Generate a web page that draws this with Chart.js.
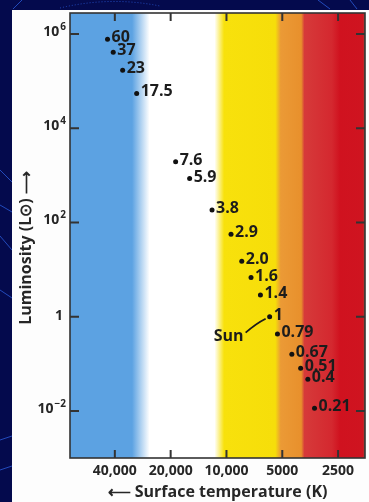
<!DOCTYPE html>
<html>
<head>
<meta charset="utf-8">
<script src="https://cdn.jsdelivr.net/npm/chart.js@4.4.0/dist/chart.umd.min.js"></script>
<style>
  html, body { margin: 0; padding: 0; width: 369px; height: 502px; overflow: hidden; background: #040a4d; }
  #bg { position: absolute; left: 0; top: 0; }
  #panel { position: absolute; left: 12px; top: 10px; width: 357px; height: 492px; background: #fdfdfd; }
  #hr { position: absolute; left: 0; top: 0; }
</style>
</head>
<body>
<svg id="bg" width="369" height="502">
  <g fill="none" stroke="#2a5ad8" stroke-width="1" opacity="0.8">
    <path d="M13 9 L22 0"/>
    <path d="M60 8 Q110 -4 160 6" stroke-dasharray="1 2"/>
    <path d="M318 0 L330 9"/>
    <path d="M350 0 L357 9"/>
    <path d="M0 170 L12 182"/>
    <path d="M0 205 L12 212"/>
    <path d="M0 236 L12 250"/>
    <path d="M0 290 L12 298"/>
    <path d="M0 440 L12 436"/>
    <path d="M0 470 L12 466"/>
  </g>
</svg>
<div id="panel"></div>
<canvas id="hr" width="369" height="502"></canvas>
<script>
// main sequence stars: mass (solar masses), surface temperature (K), luminosity (L sun)
const masses = ['60', '37', '23', '17.5', '7.6', '5.9', '3.8', '2.9', '2.0', '1.6', '1.4', '1', '0.79', '0.67', '0.51', '0.4', '0.21'];
const temperatures = [43800, 40800, 36300, 30500, 18800, 15800, 11960, 9450, 8270, 7370, 6560, 5850, 5310, 4440, 3980, 3640, 3350];
const luminosities = [7.8e5, 4.1e5, 1.7e5, 5.5e4, 1950, 860, 183, 56, 15, 6.8, 2.9, 1, 0.43, 0.16, 0.08, 0.047, 0.0114];

const tempTicks = [40000, 20000, 10000, 5000, 2500];
const tempTickLabels = ['40,000', '20,000', '10,000', '5000', '2500'];
const lumTicks = [1e6, 1e4, 1e2, 1, 1e-2];
const lumTickExponents = ['6', '4', '2', '', '\u22122'];

// colour bands behind the stars, by temperature
const bandTemps = [69800, 32300, 26000, 11600, 10300, 5450, 5100, 3950, 3800, 2700, 2450, 1830, 1810, 1790];
const bandColors = ['#5ca2e2', '#5ca2e2', '#ffffff', '#ffffff', '#f8e10c', '#f6de0a', '#eb9a36', '#e8902c', '#d63a3a', '#d4282f', '#d0121f', '#cf1420', '#9c4a3c', '#9c4a3c'];

const sunLabel = 'Sun';
const font = 'Open Sans';
const ink = '#262626';

const bands = {
  id: 'bands',
  beforeDatasetsDraw(chart) {
    const { ctx, chartArea: a, scales: { x } } = chart;
    const g = ctx.createLinearGradient(a.left, 0, a.right, 0);
    bandTemps.forEach((t, i) => {
      const off = (x.getPixelForValue(t) - a.left) / (a.right - a.left);
      g.addColorStop(Math.min(1, Math.max(0, off)), bandColors[i]);
    });
    ctx.save();
    ctx.fillStyle = g;
    ctx.fillRect(a.left, a.top, a.right - a.left, a.bottom - a.top);
    ctx.restore();
  }
};

const frame = {
  id: 'frame',
  afterDatasetsDraw(chart) {
    const { ctx, chartArea: a, scales: { x, y } } = chart;
    ctx.save();
    ctx.strokeStyle = '#333';
    ctx.lineWidth = 1.6;
    ctx.strokeRect(a.left, a.top, a.right - a.left, a.bottom - a.top);

    // inward tick marks on all four sides
    ctx.lineWidth = 2;
    ctx.beginPath();
    x.ticks.forEach(t => {
      const px = x.getPixelForValue(t.value);
      ctx.moveTo(px, a.bottom); ctx.lineTo(px, a.bottom - 8);
      ctx.moveTo(px, a.top); ctx.lineTo(px, a.top + 8);
    });
    y.ticks.forEach(t => {
      const py = y.getPixelForValue(t.value);
      ctx.moveTo(a.left, py); ctx.lineTo(a.left + 9, py);
      ctx.moveTo(a.right, py); ctx.lineTo(a.right - 9, py);
    });
    ctx.stroke();

    // y tick labels with superscript exponents
    ctx.fillStyle = ink;
    ctx.textAlign = 'right';
    ctx.textBaseline = 'middle';
    y.ticks.forEach((t, i) => {
      const py = y.getPixelForValue(t.value);
      const exp = lumTickExponents[i];
      const right = a.left - 4;
      if (!exp) {
        ctx.font = `bold 14px "${font}"`;
        ctx.fillText('1', right - 3, py - 1);
        return;
      }
      ctx.font = `bold 10px "${font}"`;
      const w = ctx.measureText(exp).width;
      ctx.fillText(exp, right, py - 7);
      ctx.font = `bold 14px "${font}"`;
      ctx.fillText('10', right - w - 1, py - 2);
    });

    // mass labels next to each star
    const meta = chart.getDatasetMeta(0);
    ctx.font = `bold 16px "${font}"`;
    ctx.textAlign = 'left';
    ctx.fillStyle = '#1c1c1c';
    meta.data.forEach((pt, i) => {
      ctx.fillText(masses[i], pt.x + 4, pt.y - 1.5);
    });

    // the Sun, with its leader line
    const sun = meta.data[masses.indexOf('1')];
    ctx.textAlign = 'right';
    ctx.fillText(sunLabel, sun.x - 26, sun.y + 20);
    ctx.lineWidth = 1.8;
    ctx.strokeStyle = '#1c1c1c';
    ctx.beginPath();
    ctx.moveTo(sun.x - 24, sun.y + 16);
    ctx.quadraticCurveTo(sun.x - 14, sun.y + 7, sun.x - 4, sun.y + 2);
    ctx.stroke();
    ctx.restore();
  }
};

new Chart(document.getElementById('hr'), {
  type: 'scatter',
  data: {
    datasets: [{
      data: temperatures.map((t, i) => ({ x: t, y: luminosities[i] })),
      backgroundColor: '#111',
      borderColor: '#111',
      pointRadius: 2.5,
      borderWidth: 0
    }]
  },
  options: {
    responsive: false,
    animation: false,
    devicePixelRatio: 1,
    layout: { padding: { top: 13, right: 3, left: 0, bottom: 0 } },
    plugins: { legend: { display: false }, tooltip: { enabled: false } },
    scales: {
      x: {
        type: 'logarithmic',
        reverse: true,
        min: 1790,
        max: 69800,
        afterBuildTicks: s => { s.ticks = tempTicks.map(v => ({ value: v })); },
        afterFit: s => { s.height = 44; },
        grid: { display: false, drawTicks: false },
        border: { display: false },
        ticks: {
          autoSkip: false,
          maxRotation: 0,
          padding: 5,
          color: ink,
          font: { family: font, weight: 'bold', size: 14 },
          callback: (v, i) => tempTickLabels[i]
        },
        title: {
          display: true,
          text: '\u27F5 Surface temperature (K)',
          color: ink,
          font: { family: font, weight: 'bold', size: 16 },
          padding: { top: 0, bottom: 0 }
        }
      },
      y: {
        type: 'logarithmic',
        min: 1e-3,
        max: 2.8e6,
        afterBuildTicks: s => { s.ticks = lumTicks.map(v => ({ value: v })); },
        afterFit: s => { s.width = 70; },
        grid: { display: false, drawTicks: false },
        border: { display: false },
        ticks: { display: false },
        title: {
          display: true,
          text: 'Luminosity (L\u2299) \u27F6\u00A0\u00A0\u00A0\u00A0\u00A0\u00A0',
          color: ink,
          font: { family: font, weight: 'bold', size: 16 },
          padding: { top: 17, bottom: 0 }
        }
      }
    }
  },
  plugins: [bands, frame]
});
</script>
</body>
</html>
